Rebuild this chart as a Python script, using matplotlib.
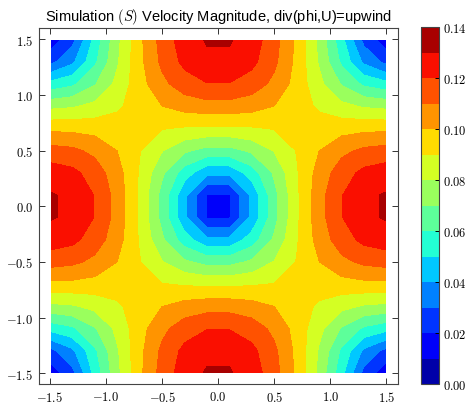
import matplotlib
matplotlib.use('Agg')
import matplotlib.pyplot as plt
from matplotlib.ticker import FuncFormatter
import numpy as np

plt.rcParams['mathtext.fontset'] = 'cm'

# grid node positions, same on both axes
nodes = [-1.49, -1.3, -1.1, -0.9, -0.7, -0.5, -0.3, -0.1,
         0.1, 0.3, 0.5, 0.7, 0.9, 1.1, 1.3, 1.49]

# velocity magnitude read off the upper right quarter
# rows: y = 0.1 ... 1.5, cols: x = 0.1 ... 1.5
speed_quarter = [
    [0.0193, 0.0425, 0.0665, 0.0881, 0.1061, 0.1196, 0.1280, 0.1308],
    [0.0425, 0.0547, 0.0718, 0.0890, 0.1040, 0.1154, 0.1226, 0.1251],
    [0.0665, 0.0718, 0.0805, 0.0905, 0.0999, 0.1074, 0.1122, 0.1139],
    [0.0881, 0.0890, 0.0905, 0.0925, 0.0945, 0.0962, 0.0973, 0.0977],
    [0.1061, 0.1040, 0.0999, 0.0945, 0.0884, 0.0828, 0.0788, 0.0773],
    [0.1196, 0.1154, 0.1074, 0.0962, 0.0828, 0.0691, 0.0580, 0.0535],
    [0.1280, 0.1226, 0.1122, 0.0973, 0.0788, 0.0580, 0.0378, 0.0273],
    [0.1308, 0.1251, 0.1139, 0.0977, 0.0773, 0.0535, 0.0273, 0.0150],
]

levels = [0.00, 0.01, 0.02, 0.03, 0.04, 0.05, 0.06, 0.07,
          0.08, 0.09, 0.10, 0.11, 0.12, 0.13, 0.14]
cbar_ticks = [0.00, 0.02, 0.04, 0.06, 0.08, 0.10, 0.12, 0.14]
axis_ticks = [-1.5, -1.0, -0.5, 0.0, 0.5, 1.0, 1.5]

# field is symmetric about both axes -> mirror the quarter
q = np.array(speed_quarter)
upper = np.hstack([q[:, ::-1], q])
speed = np.vstack([upper[::-1], upper])
X, Y = np.meshgrid(nodes, nodes)

W, H = 469, 406
fig = plt.figure(figsize=(W / 100, H / 100), dpi=100)
ax = fig.add_axes([38.7 / W, 20.7 / H, 359 / W, 356 / H])
cax = fig.add_axes([420.7 / W, 21 / H, 18.6 / W, 356.7 / H])

cf = ax.contourf(X, Y, speed, levels=levels, cmap='jet')

ax.set_xlim(-1.6, 1.6)
ax.set_ylim(-1.6, 1.6)
ax.set_xticks(axis_ticks)
ax.set_yticks(axis_ticks)
fmt1 = FuncFormatter(lambda v, p: '$%.1f$' % v)
ax.xaxis.set_major_formatter(fmt1)
ax.yaxis.set_major_formatter(fmt1)
ax.tick_params(direction='in', top=True, right=True, length=4, width=0.7,
               labelsize=9, pad=4, color='#333333')
for s in ax.spines.values():
    s.set_linewidth(0.8)
    s.set_color('#444444')

ax.set_title('Simulation $(S)$ Velocity Magnitude, div(phi,U)=upwind',
             fontsize=10.5, family='Liberation Sans', pad=6)

cb = fig.colorbar(cf, cax=cax, ticks=cbar_ticks)
cb.ax.yaxis.set_major_formatter(FuncFormatter(lambda v, p: '$%.2f$' % v))
cb.ax.tick_params(direction='in', length=3, width=0.7, labelsize=9, pad=3)
cb.outline.set_linewidth(0.8)
cb.outline.set_edgecolor('#444444')

fig.savefig('out.png', dpi=100)
